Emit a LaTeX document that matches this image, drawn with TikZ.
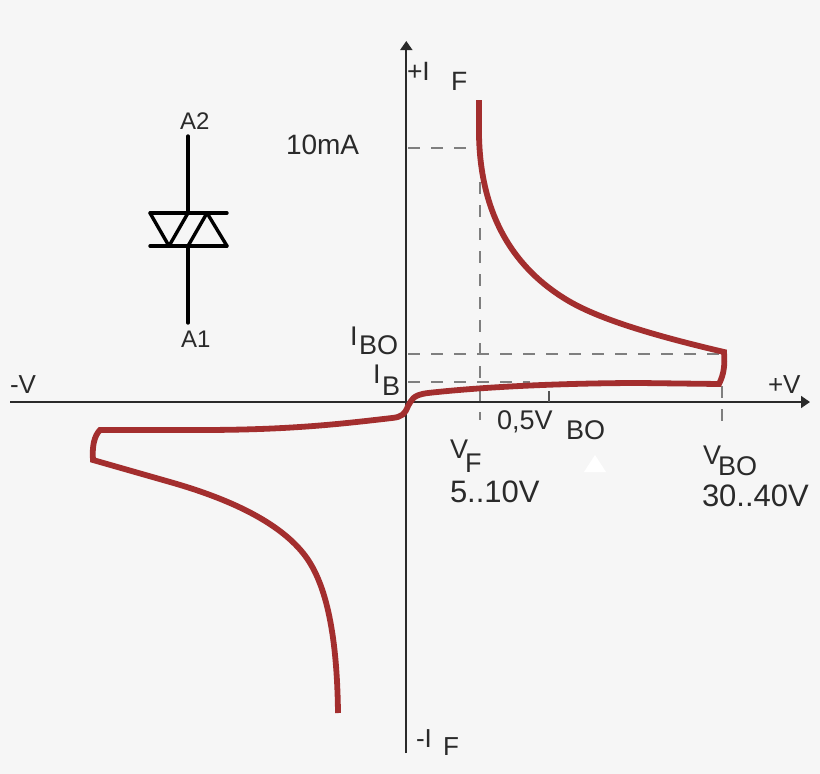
\documentclass[tikz,border=0pt]{standalone}
\usepackage{fontspec}
\setmainfont{Liberation Sans}
\usetikzlibrary{arrows.meta}
\definecolor{bg}{HTML}{F6F6F6}
\definecolor{ink}{HTML}{2A2A2A}
\definecolor{curve}{HTML}{A32E2E}
\tikzset{
  lbl/.style={anchor=base west,inner sep=0pt,outer sep=0pt,text=ink,font=\fontsize{#1}{#1}\selectfont},
  lbl/.default=26,
  axisline/.style={draw=ink,line width=1.7pt,-{Triangle[length=9pt,width=12pt]}},
  guide/.style={draw=ink!60,line width=1.1pt,dash pattern=on 12pt off 11pt},
  trace/.style={draw=curve,line width=5.8pt,line join=miter},
  sym/.style={draw=black,line width=3.4pt,line cap=round,line join=round}
}
\begin{document}
\begin{tikzpicture}[x=1pt,y=-1pt]
\useasboundingbox (0,0) rectangle (820,774);
\fill[bg] (0,0) rectangle (820,774);
% coordinates
\coordinate (vl) at (10,402); \coordinate (vr) at (810,402);
\coordinate (ib) at (406.3,753); \coordinate (it) at (406.3,41);
\coordinate (g1) at (408,148); \coordinate (g1e) at (478,148);
\coordinate (g2) at (480,182); \coordinate (g2e) at (480,420);
\coordinate (g3) at (408,354); \coordinate (g3e) at (722,354);
\coordinate (g4) at (408,382); \coordinate (g4e) at (530,382);
\coordinate (g5) at (722,386); \coordinate (g5e) at (722,432);
\coordinate (t1) at (549,391); \coordinate (t2) at (549,402);
% axes and guides
\draw[axisline] (vl) -- (vr);
\draw[axisline] (ib) -- (it);
\draw[guide] (g1) -- (g1e);
\draw[guide] (g2) -- (g2e);
\draw[guide] (g3) -- (g3e);
\draw[guide] (g4) -- (g4e);
\draw[guide] (g5) -- (g5e);
\draw[draw=ink!80,line width=1.2pt] (t1) -- (t2);
% characteristic
\draw[trace] (479,100) -- (479,125)
  .. controls (478,190) and (497,258) .. (567,300)
  .. controls (600,320) and (660,337) .. (724,352)
  .. controls (725,365) and (724,374) .. (719,384)
  -- (640,383)
  .. controls (590,383) and (500,385) .. (428,393)
  .. controls (412,395) and (412,400) .. (408,406)
  .. controls (405,414) and (402,417) .. (392,418)
  .. controls (340,424) and (290,430) .. (200,430)
  -- (100,430)
  .. controls (94,436) and (92,447) .. (93,460)
  -- (170,482)
  .. controls (230,499) and (278,522) .. (303,553)
  .. controls (325,580) and (337,630) .. (338,713);
% symbol
\coordinate (a2) at (188,136); \coordinate (s1) at (188,213);
\coordinate (s2) at (188,246); \coordinate (a1) at (188,323);
\coordinate (bl1) at (150,213); \coordinate (br1) at (227,213);
\coordinate (bl2) at (150,246); \coordinate (br2) at (227,246);
\coordinate (tp1) at (169,246); \coordinate (tp2) at (207,213);
\draw[sym] (a2) -- (s1);
\draw[sym] (s2) -- (a1);
\draw[sym] (bl1) -- (br1);
\draw[sym] (bl2) -- (br2);
\draw[sym] (bl1) -- (tp1) -- (s1);
\draw[sym] (s2) -- (tp2) -- (br2);
% white triangle
\fill[white] (584,472) -- (595,455) -- (606,472) -- cycle;
% labels
\node[lbl=24] (lA2) at (180,129) {A2};
\node[lbl=24] (lA1) at (181,347) {A1};
\node[lbl=26.5] (lPI) at (407,80) {+I};
\node[lbl=26.5] (lF) at (451,90) {F};
\node[lbl=28] (l10) at (286,154) {10mA};
\node[lbl=27] (lI1) at (350,345) {I};
\node[lbl=27] (lBO) at (359,354) {BO};
\node[lbl=27] (lI2) at (373,383) {I};
\node[lbl=27] (lB) at (382,395) {B};
\node[lbl=26] (lmV) at (10,393) {-V};
\node[lbl=26] (lpV) at (768,393) {+V};
\node[lbl=27] (l05) at (497,429) {0,5V};
\node[lbl=27] (lBOb) at (566,439) {BO};
\node[lbl=27] (lV1) at (450,458) {V};
\node[lbl=27] (lF2) at (465,472) {F};
\node[lbl=31] (l510) at (450,502) {5..10V};
\node[lbl=27] (lV2) at (703,464) {V};
\node[lbl=27] (lBO2) at (718,475) {BO};
\node[lbl=31] (l3040) at (702,506) {30..40V};
\node[lbl=26] (lmI) at (416,747) {-I};
\node[lbl=26] (lF3) at (443,755) {F};
\end{tikzpicture}
\end{document}
